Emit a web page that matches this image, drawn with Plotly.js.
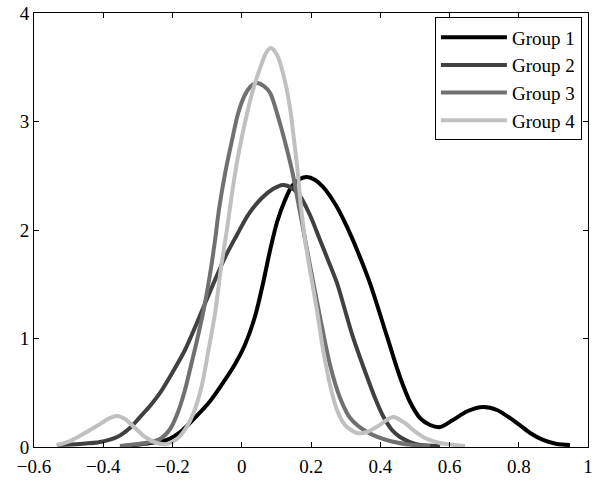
<!DOCTYPE html>
<html>
<head>
<meta charset="utf-8">
<script src="https://cdn.plot.ly/plotly-3.0.1.min.js"></script>
<style>html,body{margin:0;padding:0;background:#fff;}#chart{width:601px;height:483px;}</style>
</head>
<body>
<div id="chart"></div>
<script>
var seriesNames = ["Group 1", "Group 2", "Group 3", "Group 4"];

var g1x = [-0.337, -0.265, -0.216, -0.173, -0.135, -0.097, -0.063, -0.020, 0.009, 0.038, 0.061, 0.082, 0.102, 0.125, 0.145, 0.168, 0.188, 0.212, 0.235, 0.275, 0.304, 0.333, 0.370, 0.420, 0.457, 0.486, 0.515, 0.544, 0.573, 0.610, 0.653, 0.697, 0.737, 0.795, 0.833, 0.870, 0.910, 0.948];
var g1y = [0.009, 0.037, 0.065, 0.150, 0.270, 0.400, 0.550, 0.760, 0.940, 1.200, 1.502, 1.816, 2.074, 2.276, 2.406, 2.470, 2.488, 2.461, 2.396, 2.212, 2.028, 1.816, 1.512, 1.014, 0.645, 0.415, 0.267, 0.203, 0.184, 0.249, 0.332, 0.369, 0.341, 0.221, 0.129, 0.065, 0.028, 0.018];

var g2x = [-0.534, -0.467, -0.409, -0.360, -0.323, -0.294, -0.265, -0.236, -0.201, -0.164, -0.126, -0.086, -0.048, -0.014, 0.018, 0.058, 0.090, 0.119, 0.145, 0.168, 0.197, 0.226, 0.249, 0.275, 0.298, 0.321, 0.342, 0.362, 0.385, 0.408, 0.434, 0.457, 0.486, 0.515, 0.573];
var g2y = [0.018, 0.028, 0.046, 0.092, 0.175, 0.276, 0.378, 0.498, 0.682, 0.894, 1.171, 1.475, 1.751, 1.954, 2.138, 2.295, 2.378, 2.415, 2.387, 2.313, 2.138, 1.908, 1.724, 1.512, 1.263, 1.014, 0.820, 0.645, 0.452, 0.286, 0.157, 0.092, 0.046, 0.018, 0.009];

var g3x = [-0.352, -0.279, -0.236, -0.207, -0.184, -0.164, -0.147, -0.129, -0.109, -0.092, -0.077, -0.066, -0.048, -0.028, -0.011, 0.009, 0.027, 0.044, 0.064, 0.082, 0.110, 0.131, 0.148, 0.168, 0.197, 0.226, 0.255, 0.284, 0.313, 0.362, 0.428, 0.495, 0.544];
var g3y = [0.009, 0.037, 0.074, 0.166, 0.323, 0.525, 0.747, 0.986, 1.281, 1.585, 1.908, 2.184, 2.525, 2.829, 3.069, 3.244, 3.327, 3.355, 3.327, 3.263, 2.986, 2.737, 2.507, 2.166, 1.677, 1.198, 0.756, 0.452, 0.267, 0.138, 0.055, 0.018, 0.009];

var g4x = [-0.534, -0.496, -0.453, -0.409, -0.381, -0.360, -0.337, -0.308, -0.279, -0.245, -0.216, -0.187, -0.161, -0.138, -0.115, -0.097, -0.077, -0.060, -0.043, -0.028, -0.011, 0.009, 0.030, 0.053, 0.070, 0.084, 0.102, 0.119, 0.139, 0.151, 0.162, 0.171, 0.183, 0.197, 0.217, 0.235, 0.255, 0.275, 0.298, 0.333, 0.362, 0.394, 0.437, 0.471, 0.495, 0.529, 0.573, 0.616, 0.645];
var g4y = [0.018, 0.055, 0.129, 0.212, 0.267, 0.286, 0.258, 0.175, 0.092, 0.037, 0.028, 0.074, 0.175, 0.323, 0.571, 0.876, 1.235, 1.650, 2.000, 2.341, 2.673, 2.986, 3.263, 3.493, 3.631, 3.677, 3.613, 3.447, 3.134, 2.829, 2.525, 2.212, 1.908, 1.631, 1.263, 0.894, 0.571, 0.341, 0.203, 0.129, 0.138, 0.194, 0.276, 0.221, 0.157, 0.083, 0.037, 0.018, 0.009];

var xTicks = [-0.6, -0.4, -0.2, 0, 0.2, 0.4, 0.6, 0.8, 1];
var xTickText = ["\u22120.6", "\u22120.4", "\u22120.2", "0", "0.2", "0.4", "0.6", "0.8", "1"];
var yTicks = [0, 1, 2, 3, 4];

var colors = ["#000000", "#404040", "#707070", "#c0c0c0"];
var xs = [g1x, g2x, g3x, g4x];
var ys = [g1y, g2y, g3y, g4y];

var traces = [];
for (var i = 0; i < 4; i++) {
  traces.push({
    x: xs[i], y: ys[i], name: seriesNames[i], type: "scatter", mode: "lines",
    line: {color: colors[i], width: 4, shape: "spline", smoothing: 0.8}
  });
}

var axisBase = {
  showgrid: false, zeroline: false, showline: true, linecolor: "#000", linewidth: 1,
  mirror: "ticks", ticks: "inside", ticklen: 5, tickcolor: "#000", tickwidth: 1,
  tickfont: {family: "Liberation Serif", size: 19, color: "#000"}
};

var layout = {
  width: 601, height: 483,
  margin: {l: 34, r: 13, t: 13, b: 36, pad: 0},
  paper_bgcolor: "#fff", plot_bgcolor: "#fff",
  showlegend: true,
  xaxis: Object.assign({}, axisBase, {range: [-0.6, 1], tickmode: "array", tickvals: xTicks, ticktext: xTickText, ticklabelstandoff: 2}),
  yaxis: Object.assign({}, axisBase, {range: [0, 4], tickmode: "array", tickvals: yTicks, ticktext: yTicks.map(String)}),
  legend: {
    x: 0.989, y: 0.99, xanchor: "right", yanchor: "top",
    bgcolor: "#fff", bordercolor: "#000", borderwidth: 1,
    font: {family: "Liberation Serif", size: 19, color: "#000"},
    itemwidth: 66
  }
};

Plotly.newPlot("chart", traces, layout, {staticPlot: true, displayModeBar: false});
</script>
</body>
</html>
